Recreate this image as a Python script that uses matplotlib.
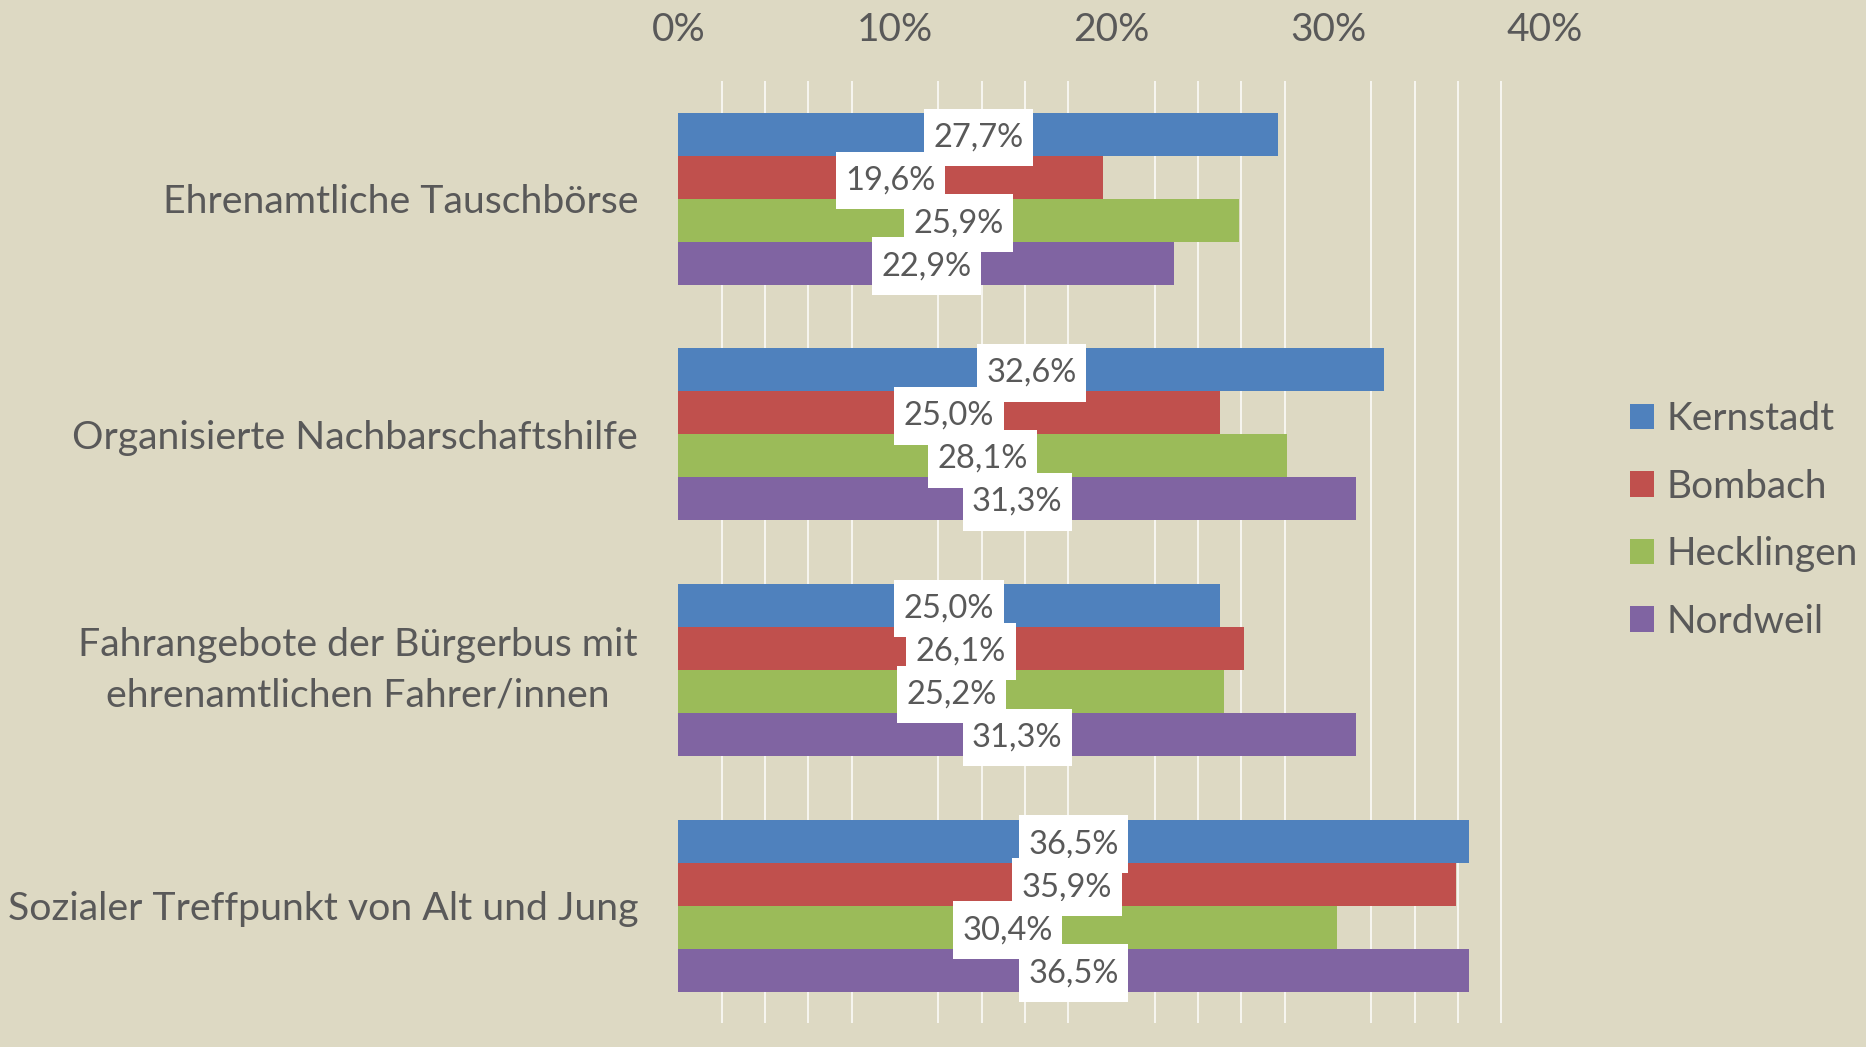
import matplotlib

matplotlib.use("Agg")
import matplotlib.pyplot as plt
from matplotlib.patches import Patch
from matplotlib.ticker import FixedLocator, FuncFormatter
import numpy as np

# survey answers per district, share in percent
categories = [
    "Ehrenamtliche Tauschbörse",
    "Organisierte Nachbarschaftshilfe",
    "Fahrangebote der Bürgerbus mit\nehrenamtlichen Fahrer/innen",
    "Sozialer Treffpunkt von Alt und Jung",
]
districts = ["Kernstadt", "Bombach", "Hecklingen", "Nordweil"]
kernstadt = [27.7, 32.6, 25.0, 36.5]
bombach = [19.6, 25.0, 26.1, 35.9]
hecklingen = [25.9, 28.1, 25.2, 30.4]
nordweil = [22.9, 31.3, 31.3, 36.5]
x_ticks = [0, 10, 20, 30, 40]

series = [kernstadt, bombach, hecklingen, nordweil]
colors = ["#4F81BD", "#C0504D", "#9BBB59", "#8064A2"]
bg = "#DDD9C3"
txt = "#595959"

plt.rcParams["font.family"] = ["Lato", "DejaVu Sans"]

fig = plt.figure(figsize=(18.66, 10.47), dpi=100, facecolor=bg)
ax = fig.add_axes([0.3635, 0.0225, 0.8278 - 0.3635, 0.9227 - 0.0225])
ax.set_facecolor(bg)

h = 0.1823
y = np.arange(len(categories))
for k, (vals, col) in enumerate(zip(series, colors)):
    pos = y - 1.5 * h + k * h
    ax.barh(pos, vals, height=h, color=col, zorder=2)
    # value labels in white boxes, centred on the bar
    for p, v in zip(pos, vals):
        ax.text(
            v / 2, p, f"{v:.1f}%".replace(".", ","),
            ha="center", va="center_baseline", fontsize=23.5, color=txt, zorder=5,
            bbox=dict(boxstyle="square,pad=0.29", fc="white", ec="none",
                      mutation_aspect=1.45),
        )

ax.set_xlim(0, 40)
ax.set_ylim(3.5, -0.5)
ax.set_yticks(y)
ax.set_yticklabels(categories, fontsize=28.3, color=txt)
for lab in ax.get_yticklabels():
    lab.set_multialignment("center")
    lab.set_linespacing(1.5)
    if "\n" in lab.get_text():
        lab.set_verticalalignment("center")

ax.xaxis.tick_top()
ax.set_xticks(x_ticks)
ax.xaxis.set_major_formatter(FuncFormatter(lambda v, _: f"{v:.0f}%"))
ax.xaxis.set_minor_locator(FixedLocator(np.arange(0, 39, 2)))
ax.tick_params(axis="x", which="major", labelsize=28, labelcolor=txt, length=0, pad=24)
ax.tick_params(axis="x", which="minor", length=0)
ax.tick_params(axis="y", length=0, pad=29)
ax.grid(False)
ax.grid(True, which="minor", axis="x", color="#F7F6F1", lw=1.4, zorder=1)
ax.set_axisbelow(True)
for s in ax.spines.values():
    s.set_visible(False)

handles = [Patch(facecolor=c, edgecolor="none") for c in colors]
fig.legend(
    handles, districts, loc="center left", bbox_to_anchor=(0.8735, 0.503),
    frameon=False, fontsize=28, labelcolor=txt, handlelength=0.62,
    handleheight=0.62, handletextpad=0.32, labelspacing=0.81,
    borderpad=0, borderaxespad=0,
)

fig.savefig("out.png", dpi=100, facecolor=bg)
